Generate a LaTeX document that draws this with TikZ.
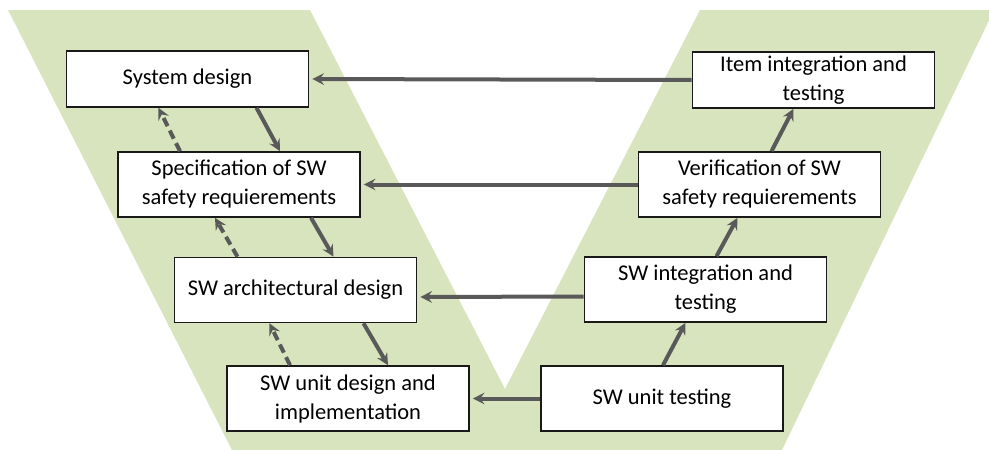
\documentclass[tikz,border=0pt]{standalone}
\usepackage{fontspec}
\setmainfont{Carlito}
\usepackage{tikz}
\usetikzlibrary{arrows}
\definecolor{vgreen}{HTML}{D7E4BD}
\definecolor{arrowgray}{HTML}{595959}
\tikzstyle{phase} = [rectangle, minimum width=242pt, minimum height=65pt, text centered, align=center, draw=black!90, line width=1.6pt, fill=white, inner sep=2pt, font=\fontsize{22.5}{29}\selectfont]
\tikzstyle{arrow} = [line width=4pt, draw=arrowgray, ->, >=stealth]
\tikzstyle{back} = [arrow, dash pattern=on 9pt off 5pt]

\begin{document}
\begin{tikzpicture}[x=1pt, y=-1pt]
    \useasboundingbox (0,0) rectangle (989,450);
    \fill [vgreen] (8,10) -- (310,10) -- (505,389) -- (700,10) -- (994,10) -- (782,450) -- (232,450) -- cycle;
    % left branch
    \node (sys) [phase, minimum height=56pt] at (187.5,79) {System design};
    \node (spec) [phase] at (239,184.5) {Specification of SW\\safety requierements};
    \node (arch) [phase] at (295.5,290) {SW architectural design};
    \node (unit) [phase] at (348,398.5) {SW unit design and\\implementation};
    % right branch
    \node (utest) [phase] at (662,398.5) {SW unit testing};
    \node (integ) [phase] at (705.5,289.5) {SW integration and\\testing};
    \node (verif) [phase] at (759.5,184.5) {Verification of SW\\safety requierements};
    \node (item) [phase, minimum height=56pt] at (813.5,80) {Item integration and\\testing};
    % across the V
    \draw [arrow, shorten >=3pt] (item.west) -- (sys.east);
    \draw [arrow, shorten >=3pt] (verif.west) -- (spec.east);
    \draw [arrow, shorten >=3pt] ([yshift=-7pt]integ.west) -- ([yshift=-7pt]arch.east);
    \draw [arrow, shorten >=3pt] (utest.west) -- (unit.east);
    % down the left side
    \draw [arrow] ([xshift=69pt]sys.south) -- ([xshift=41pt]spec.north);
    \draw [arrow] ([xshift=72pt]spec.south) -- ([xshift=38pt]arch.north);
    \draw [arrow] ([xshift=68pt]arch.south) -- ([xshift=40pt]unit.north);
    \draw [back] ([xshift=-59pt]spec.north) -- ([xshift=-29pt]sys.south);
    \draw [back] ([xshift=-58pt]arch.north) -- ([xshift=-24pt]spec.south);
    \draw [back] ([xshift=-58pt]unit.north) -- ([xshift=-26pt]arch.south);
    % up the right side
    \draw [arrow] ([xshift=1pt]utest.north) -- ([xshift=-20pt]integ.south);
    \draw [arrow] ([xshift=11pt]integ.north) -- ([xshift=-22pt]verif.south);
    \draw [arrow] ([xshift=12pt]verif.north) -- ([xshift=-20pt]item.south);
\end{tikzpicture}
\end{document}
